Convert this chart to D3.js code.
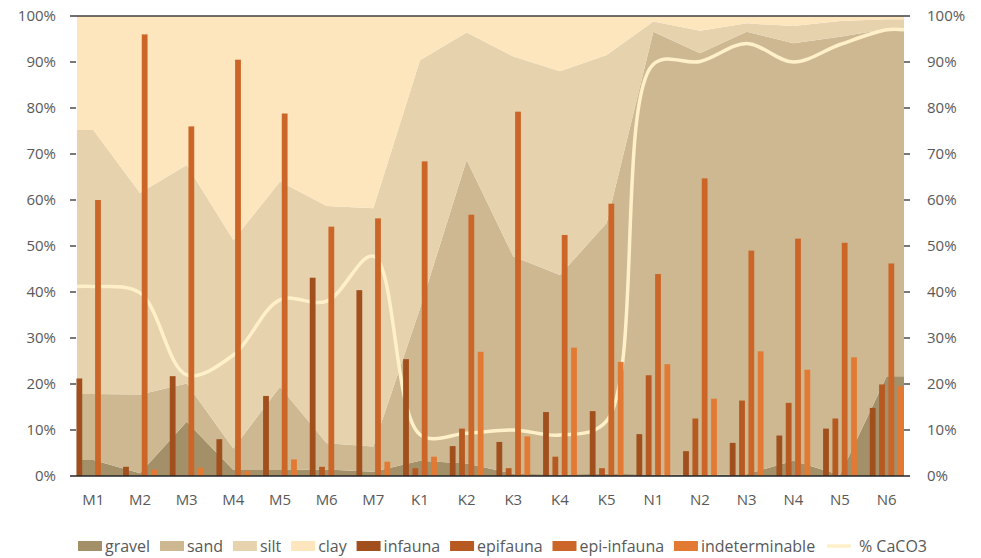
<!DOCTYPE html>
<html>
<head>
<meta charset="utf-8">
<script src="https://cdn.jsdelivr.net/npm/d3@7"></script>
<style>
  body { margin: 0; background: #ffffff; }
  svg { display: block; }
</style>
</head>
<body>
<div id="chart"></div>
<script>
// sites
var categories = ["M1", "M2", "M3", "M4", "M5", "M6", "M7", "K1", "K2", "K3", "K4", "K5", "N1", "N2", "N3", "N4", "N5", "N6"];

// sediment fractions (%), stacked to 100
var gravel = [3.5, 0.6, 11.8, 1.3, 1.3, 1.4, 0.9, 3.3, 2.7, 0.5, 0.3, 0.5, 0.3, 0.2, 0.4, 3.3, 0.2, 21.7];
var sand   = [14.3, 17.1, 8.3, 4.7, 18.1, 5.7, 5.5, 33.1, 66.0, 47.2, 43.4, 54.5, 96.3, 91.7, 96.2, 90.8, 95.3, 75.5];
var silt   = [57.4, 43.8, 47.5, 45.3, 44.6, 51.6, 51.8, 54.0, 27.7, 43.5, 44.3, 36.5, 2.2, 4.9, 1.8, 3.7, 3.4, 2.1];
var clay   = [24.8, 38.5, 32.4, 48.7, 36.0, 41.3, 41.8, 9.6, 3.6, 8.8, 12.0, 8.5, 1.2, 3.2, 1.6, 2.2, 1.1, 0.7];

// fauna groups (%)
var infauna        = [21.2, 2.0, 21.7, 8.0, 17.4, 43.1, 40.4, 25.4, 6.5, 7.4, 13.9, 14.1, 9.1, 5.4, 7.2, 8.8, 10.3, 14.8];
var epifauna       = [0, 0, 0, 0, 0, 2.0, 0, 1.7, 10.3, 1.7, 4.2, 1.7, 21.9, 12.5, 16.4, 15.9, 12.5, 19.9];
var epiInfauna     = [60.0, 96.0, 76.0, 90.5, 78.8, 54.2, 56.0, 68.4, 56.8, 79.2, 52.4, 59.2, 43.9, 64.7, 49.0, 51.6, 50.7, 46.2];
var indeterminable = [0, 1.4, 1.8, 1.1, 3.6, 0, 3.1, 4.2, 27.0, 8.6, 27.9, 24.8, 24.3, 16.8, 27.1, 23.1, 25.8, 19.5];

// % CaCO3
var caco3 = [41.2, 39.8, 22.0, 26.3, 38.3, 38.0, 47.8, 9.0, 9.3, 10.0, 8.9, 12.0, 89.5, 90.1, 94.0, 90.0, 93.8, 97.0];

// axis ticks
var yTicks = [0, 10, 20, 30, 40, 50, 60, 70, 80, 90, 100];

var areaNames = ["gravel", "sand", "silt", "clay"];
var areaColors = ["#a39068", "#cdb892", "#e6d2ac", "#fde6be"];
var barNames = ["infauna", "epifauna", "epi-infauna", "indeterminable"];
var barColors = ["#a04f1d", "#b65a21", "#cb6628", "#e27a33"];
var lineColor = "#fff0c9";

function drawChart() {
    var width = 981, height = 558;
    var left = 70, right = 910, top = 16, bottom = 476;
    var fillInL = 7, fillInR = 6;

    var svg = d3.select("#chart").append("svg")
        .attr("width", width)
        .attr("height", height);

    var x = d3.scaleBand()
        .domain(categories)
        .range([left, right])
        .padding(0);
    var bw = x.bandwidth();
    var cx = function (c) { return x(c) + bw / 2; };

    var y = d3.scaleLinear()
        .domain([0, 100])
        .range([bottom, top]);

    // stacked areas
    var rows = categories.map(function (c, i) {
        return { cat: c, gravel: gravel[i], sand: sand[i], silt: silt[i], clay: clay[i] };
    });
    var stacked = d3.stack().keys(areaNames)(rows);

    // area runs flat out to the plot edges
    stacked.forEach(function (layer, k) {
        var pts = layer.map(function (d) { return { x: cx(d.data.cat), y0: d[0], y1: d[1] }; });
        pts.unshift({ x: left + fillInL, y0: pts[0].y0, y1: pts[0].y1 });
        pts.push({ x: right - fillInR, y0: pts[pts.length - 1].y0, y1: pts[pts.length - 1].y1 });
        var area = d3.area()
            .x(function (d) { return d.x; })
            .y0(function (d) { return y(d.y0); })
            .y1(function (d) { return y(d.y1); });
        svg.append("path")
            .datum(pts)
            .attr("fill", areaColors[k])
            .attr("d", area);
    });

    // CaCO3 line (smoothed)
    var linePts = categories.map(function (c, i) { return [cx(c), caco3[i]]; });
    linePts.unshift([left + fillInL, caco3[0]]);
    linePts.push([right - fillInR, caco3[caco3.length - 1]]);
    var line = d3.line()
        .x(function (d) { return d[0]; })
        .y(function (d) { return y(d[1]); })
        .curve(d3.curveCatmullRom.alpha(0.5));
    svg.append("path")
        .datum(linePts)
        .attr("fill", "none")
        .attr("stroke", lineColor)
        .attr("stroke-width", 3.5)
        .attr("d", line);

    // grouped bars
    var step = bw / 5;
    var xSub = d3.scaleBand()
        .domain(barNames)
        .range([-2 * step, 2 * step])
        .padding(0);
    var barW = step * 0.62;
    var barSeries = [infauna, epifauna, epiInfauna, indeterminable];
    barSeries.forEach(function (vals, k) {
        svg.selectAll(".bar-" + k)
            .data(categories.map(function (c, i) { return { cat: c, v: vals[i] }; }).filter(function (d) { return d.v > 0; }))
            .enter().append("rect")
            .attr("class", "bar-" + k)
            .attr("x", function (d) { return cx(d.cat) + xSub(barNames[k]) + (step - barW) / 2; })
            .attr("y", function (d) { return y(d.v); })
            .attr("width", barW)
            .attr("height", function (d) { return y(0) - y(d.v); })
            .attr("fill", barColors[k]);
    });

    // frame lines
    svg.append("line")
        .attr("x1", left).attr("x2", right)
        .attr("y1", y(100)).attr("y2", y(100))
        .attr("stroke", "#404040").attr("stroke-width", 1.4);
    svg.append("line")
        .attr("x1", left).attr("x2", right)
        .attr("y1", y(0)).attr("y2", y(0))
        .attr("stroke", "#262626").attr("stroke-width", 1.4);

    // y ticks both sides
    var inner = yTicks.filter(function (t) { return t > 0 && t < 100; });
    svg.selectAll(".tickL").data(inner).enter().append("line")
        .attr("x1", left).attr("x2", left + 6)
        .attr("y1", function (d) { return y(d); }).attr("y2", function (d) { return y(d); })
        .attr("stroke", "#404040").attr("stroke-width", 1.4);
    svg.selectAll(".tickR").data(inner).enter().append("line")
        .attr("x1", right - 6).attr("x2", right)
        .attr("y1", function (d) { return y(d); }).attr("y2", function (d) { return y(d); })
        .attr("stroke", "#404040").attr("stroke-width", 1.4);

    var font = "'Open Sans', sans-serif";
    svg.selectAll(".ylabL").data(yTicks).enter().append("text")
        .attr("x", 56)
        .attr("y", function (d) { return y(d); })
        .attr("dy", "0.36em")
        .attr("text-anchor", "end")
        .style("font-family", font).style("font-size", "15px").style("fill", "#595959")
        .text(function (d) { return d + "%"; });
    svg.selectAll(".ylabR").data(yTicks).enter().append("text")
        .attr("x", 927)
        .attr("y", function (d) { return y(d); })
        .attr("dy", "0.36em")
        .attr("text-anchor", "start")
        .style("font-family", font).style("font-size", "15px").style("fill", "#595959")
        .text(function (d) { return d + "%"; });

    // category labels
    svg.selectAll(".xlab").data(categories).enter().append("text")
        .attr("x", function (d) { return cx(d); })
        .attr("y", 505)
        .attr("text-anchor", "middle")
        .style("font-family", font).style("font-size", "15px").style("fill", "#595959")
        .text(function (d) { return d; });

    // legend, spread between x=78 and x=927
    var legendItems = [];
    areaNames.forEach(function (n, i) { legendItems.push({ name: n, color: areaColors[i], type: "box" }); });
    barNames.forEach(function (n, i) { legendItems.push({ name: n, color: barColors[i], type: "box" }); });
    legendItems.push({ name: "% CaCO3", color: lineColor, type: "line" });

    var ly = 546;
    var groups = legendItems.map(function (it) {
        var g = svg.append("g");
        var tx = it.type == "box" ? 27 : 34;
        if (it.type == "box") {
            g.append("rect").attr("x", 0).attr("y", ly - 5).attr("width", 24).attr("height", 10).attr("fill", it.color);
        } else {
            g.append("line").attr("x1", 2).attr("x2", 26).attr("y1", ly).attr("y2", ly)
                .attr("stroke", it.color).attr("stroke-width", 3.5);
        }
        var t = g.append("text")
            .attr("x", tx)
            .attr("y", ly)
            .attr("dy", "0.35em")
            .style("font-family", font).style("font-size", "16px").style("fill", "#595959")
            .text(it.name);
        return { g: g, w: tx + t.node().getComputedTextLength() };
    });
    var total = d3.sum(groups, function (d) { return d.w; });
    var gap = (927 - 78 - total) / (groups.length - 1);
    var lx = 78;
    groups.forEach(function (d) {
        d.g.attr("transform", "translate(" + lx + ",0)");
        lx += d.w + gap;
    });
}

drawChart();
</script>
</body>
</html>
